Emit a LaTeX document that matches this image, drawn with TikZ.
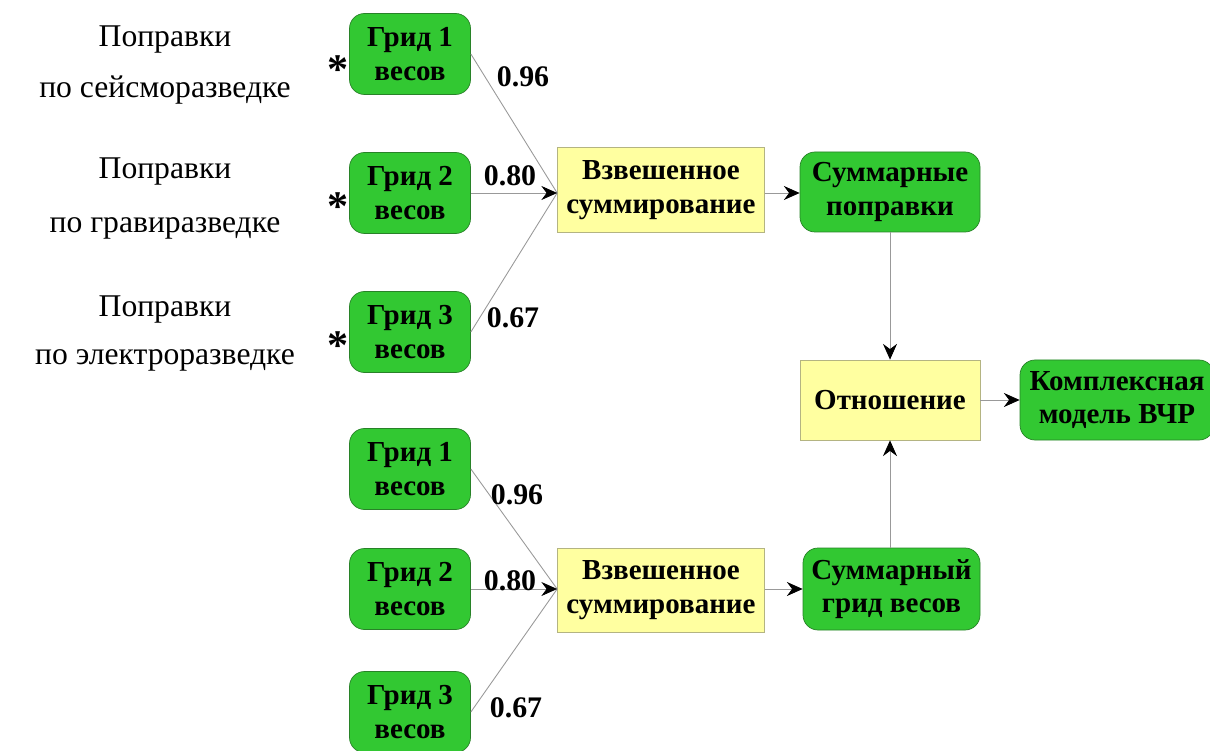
\documentclass[tikz,border=0pt]{standalone}
\usepackage{fontspec}
\setmainfont{Liberation Serif}
\usetikzlibrary{arrows.meta}
\definecolor{boxgreen}{RGB}{50,200,50}
\definecolor{boxgreenline}{RGB}{40,130,40}
\definecolor{boxyellow}{RGB}{255,255,160}
\definecolor{boxyellowline}{RGB}{180,180,130}
\tikzset{
  grnbox/.style={draw=boxgreenline, fill=boxgreen, rounded corners=0.3cm, align=center,
    minimum width=2.42cm, minimum height=1.62cm, inner sep=1pt,
    font=\bfseries\fontsize{16.5}{19}\selectfont},
  ylwbox/.style={draw=boxyellowline, fill=boxyellow, align=center,
    minimum width=4.14cm, minimum height=1.7cm, inner sep=1pt,
    font=\bfseries\fontsize{16.5}{19}\selectfont},
  wline/.style={draw=gray!80, line width=0.5pt},
  warrow/.style={wline, -{Stealth[black, length=9pt, width=8pt, inset=3pt]}},
  wlabel/.style={font=\bfseries\fontsize{17}{19}\selectfont},
  srctext/.style={font=\fontsize{18}{20}\selectfont},
  star/.style={font=\bfseries\fontsize{24}{24}\selectfont}
}
\begin{document}
\begin{tikzpicture}
\useasboundingbox (0,0) rectangle (24.2,-15.02);
% sources
\node[srctext] (s1a) at (3.3,-0.8) {Поправки};
\node[srctext] (s1b) at (3.3,-1.8) {по сейсморазведке};
\node[srctext] (s2a) at (3.3,-3.44) {Поправки};
\node[srctext] (s2b) at (3.3,-4.56) {по гравиразведке};
\node[srctext] (s3a) at (3.3,-6.2) {Поправки};
\node[srctext] (s3b) at (3.3,-7.2) {по электроразведке};
\node[star] (st1) at (6.76,-1.4) {*};
\node[star] (st2) at (6.76,-4.14) {*};
\node[star] (st3) at (6.76,-6.92) {*};
% upper branch
\node[grnbox] (g1) at (8.2,-1.08) {Грид 1\\весов};
\node[grnbox] (g2) at (8.2,-3.86) {Грид 2\\весов};
\node[grnbox] (g3) at (8.2,-6.64) {Грид 3\\весов};
\node[ylwbox] (sum1) at (13.22,-3.8) {Взвешенное\\суммирование};
\node[grnbox, minimum width=3.6cm, minimum height=1.6cm] (res1) at (17.8,-3.84) {Суммарные\\поправки};
\coordinate (in1) at (sum1.west |- g2.east);
\draw[wline] (g1.east) -- (in1);
\draw[wline] (g3.east) -- (in1);
\draw[warrow] (g2.east) -- (in1);
\node[wlabel] (w11) at (10.46,-1.54) {0.96};
\node[wlabel] (w12) at (10.2,-3.52) {0.80};
\node[wlabel] (w13) at (10.26,-6.36) {0.67};
\draw[warrow] (sum1.east |- g2.east) -- (res1.west |- g2.east);
% ratio
\node[ylwbox, minimum width=3.6cm, minimum height=1.6cm] (rat) at (17.8,-8.0) {Отношение};
\node[grnbox, minimum width=3.88cm, minimum height=1.6cm] (kvr) at (22.34,-8.0) {Комплексная\\модель ВЧР};
\draw[warrow] (res1.south) -- (rat.north);
\draw[warrow] (rat.east) -- (kvr.west);
% lower branch
\node[grnbox] (h1) at (8.2,-9.38) {Грид 1\\весов};
\node[grnbox] (h2) at (8.2,-11.78) {Грид 2\\весов};
\node[grnbox] (h3) at (8.2,-14.24) {Грид 3\\весов};
\node[ylwbox, minimum height=1.68cm] (sum2) at (13.22,-11.8) {Взвешенное\\суммирование};
\node[grnbox, minimum width=3.54cm, minimum height=1.64cm] (res2) at (17.83,-11.78) {Суммарный\\грид весов};
\coordinate (in2) at (sum2.west |- h2.east);
\draw[wline] (h1.east) -- (in2);
\draw[wline] (h3.east) -- (in2);
\draw[warrow] (h2.east) -- (in2);
\node[wlabel] (w21) at (10.34,-9.9) {0.96};
\node[wlabel] (w22) at (10.2,-11.62) {0.80};
\node[wlabel] (w23) at (10.32,-14.16) {0.67};
\draw[warrow] (sum2.east |- h2.east) -- (res2.west |- h2.east);
\draw[warrow] (res2.north -| res1.south) -- (rat.south -| res1.south);
\end{tikzpicture}
\end{document}
